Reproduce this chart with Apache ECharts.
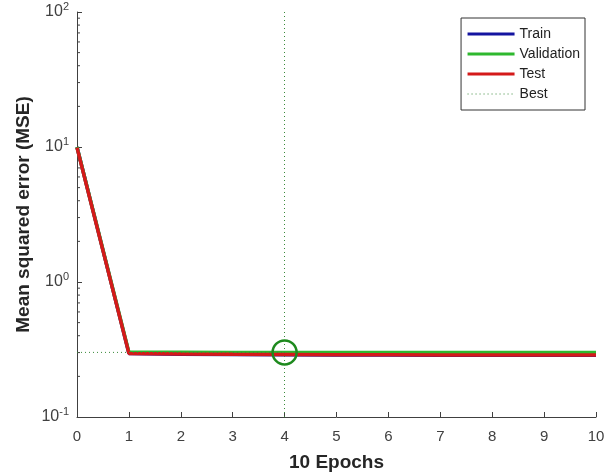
<!DOCTYPE html>
<html lang="en">
<head>
    <meta charset="UTF-8">
    <title>performance plot</title>
    <script type="text/javascript" src="https://cdn.jsdelivr.net/npm/echarts@6/dist/echarts.min.js"></script>
    <style>
        body { margin: 0; background: #fff; }
    </style>
</head>
<body>
    <div id="main" style="width: 611px; height: 472px;"></div>

    <script type="text/javascript">
        // epochs 0..10
        var epochs = [0, 1, 2, 3, 4, 5, 6, 7, 8, 9, 10];
        var trainMse = [10, 0.296, 0.292, 0.290, 0.289, 0.288, 0.288, 0.287, 0.287, 0.287, 0.287];
        var validMse = [10, 0.302, 0.302, 0.301, 0.301, 0.301, 0.301, 0.301, 0.301, 0.301, 0.301];
        var testMse = [9.9, 0.296, 0.293, 0.291, 0.290, 0.289, 0.289, 0.288, 0.288, 0.288, 0.288];
        var bestEpoch = 4;
        var bestValue = 0.301;
        var minorTicksY = [0.2, 0.3, 0.4, 0.5, 0.6, 0.7, 0.8, 0.9,
            2, 3, 4, 5, 6, 7, 8, 9, 20, 30, 40, 50, 60, 70, 80, 90];

        function pairs(ys) {
            return epochs.map(function (x, i) { return [x, ys[i]]; });
        }

        var textColor = '#404040';
        var axisColor = '#404040';
        var bestColor = '#3a8a3a';
        var myChart = echarts.init(document.getElementById('main'));

        myChart.setOption({
            animation: false,
            backgroundColor: '#fff',
            textStyle: { fontFamily: 'Liberation Sans, Arial, sans-serif' },
            grid: { left: 77, right: 15, top: 12, bottom: 55, outerBoundsMode: 'none' },
            legend: {
                data: [
                    { name: 'Train', lineStyle: { width: 3 } },
                    { name: 'Validation', lineStyle: { width: 3 } },
                    { name: 'Test', lineStyle: { width: 3 } },
                    { name: 'Best', lineStyle: { width: 1 } }
                ],
                orient: 'vertical',
                right: 26,
                top: 18,
                itemWidth: 47,
                itemHeight: 12,
                itemGap: 6,
                padding: [9, 5, 9, 5],
                borderColor: '#333',
                borderWidth: 1,
                backgroundColor: '#fff',
                itemStyle: { opacity: 0 },
                textStyle: { color: '#222', fontSize: 14 }
            },
            xAxis: {
                type: 'value',
                min: 0,
                max: 10,
                interval: 1,
                name: '10 Epochs',
                nameLocation: 'middle',
                nameGap: 36,
                nameTextStyle: { fontSize: 19, fontWeight: 'bold', color: '#262626' },
                axisLine: { lineStyle: { color: axisColor } },
                axisTick: { inside: true, length: 5, lineStyle: { color: axisColor } },
                axisLabel: { color: textColor, fontSize: 15, margin: 12 },
                splitLine: { show: false }
            },
            yAxis: {
                type: 'log',
                logBase: 10,
                min: 0.1,
                max: 100,
                name: 'Mean squared error (MSE)',
                nameLocation: 'middle',
                nameGap: 44,
                nameMoveOverlap: false,
                nameTextStyle: { fontSize: 19, fontWeight: 'bold', color: '#262626' },
                axisLine: { show: true, lineStyle: { color: axisColor } },
                axisTick: { inside: true, length: 5, lineStyle: { color: axisColor } },
                axisLabel: {
                    margin: 8,
                    formatter: function (v) {
                        return '{b|10}{s|' + Math.round(Math.log10(v)) + '}';
                    },
                    rich: {
                        b: { fontSize: 16, color: textColor },
                        s: { fontSize: 11, color: textColor, padding: [0, 0, 10, 0] }
                    }
                },
                splitLine: { show: false }
            },
            series: [{
                name: 'Train',
                type: 'line',
                data: pairs(trainMse),
                symbol: 'none',
                lineStyle: { width: 3.5, color: '#1414a0' },
                itemStyle: { color: '#1414a0' }
            }, {
                name: 'Validation',
                type: 'line',
                data: pairs(validMse),
                symbol: 'none',
                lineStyle: { width: 3.5, color: '#2eb82e' },
                itemStyle: { color: '#2eb82e' }
            }, {
                name: 'Test',
                type: 'line',
                data: pairs(testMse),
                symbol: 'none',
                lineStyle: { width: 3.5, color: '#d41a1a' },
                itemStyle: { color: '#d41a1a' }
            }, {
                name: 'Best',
                type: 'line',
                data: [[0, bestValue], [bestEpoch, bestValue]],
                symbol: 'none',
                lineStyle: { width: 1, type: [1, 3], color: bestColor },
                itemStyle: { color: bestColor },
                markLine: {
                    silent: true,
                    symbol: 'none',
                    label: { show: false },
                    lineStyle: { width: 1, type: [1, 3], color: bestColor },
                    data: [{ xAxis: bestEpoch }]
                },
                markPoint: {
                    silent: true,
                    symbol: 'circle',
                    symbolSize: 24,
                    label: { show: false },
                    itemStyle: { color: 'rgba(255,255,255,0)', borderColor: '#1e8a1e', borderWidth: 2.5 },
                    data: [{ coord: [bestEpoch, bestValue] }]
                }
            }, {
                name: 'minorTicks',
                type: 'custom',
                silent: true,
                data: minorTicksY.map(function (v) { return [0, v]; }),
                renderItem: function (params, api) {
                    var p = api.coord([0, api.value(1)]);
                    return {
                        type: 'line',
                        shape: { x1: p[0], y1: p[1], x2: p[0] + 3, y2: p[1] },
                        style: { stroke: axisColor, lineWidth: 1 }
                    };
                }
            }]
        });
    </script>
</body>
</html>
